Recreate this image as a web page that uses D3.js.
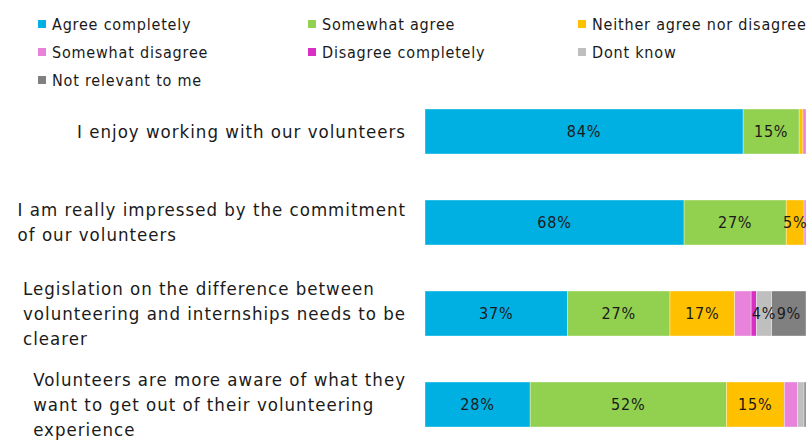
<!DOCTYPE html>
<html>
<head>
<meta charset="utf-8">
<script src="https://cdn.jsdelivr.net/npm/d3@7/dist/d3.min.js"></script>
<style>
  html, body { margin: 0; padding: 0; background: #fff; }
  svg { display: block; }
  text { font-family: "DejaVu Sans Condensed", "DejaVu Sans", sans-serif; font-stretch: condensed; fill: #1a1a1a; }
</style>
</head>
<body>
<svg id="chart" width="810" height="442"></svg>
<script>
// ---- Data ----
const categories = [
  "I enjoy working with our volunteers",
  "I am really impressed by the commitment of our volunteers",
  "Legislation on the difference between volunteering and internships needs to be clearer",
  "Volunteers are more aware of what they want to get out of their volunteering experience"
];
const categoryLines = [
  ["I enjoy working with our volunteers"],
  ["I am really impressed by the commitment", "of our volunteers"],
  ["Legislation on the difference between", "volunteering and internships needs to be", "clearer"],
  ["Volunteers are more aware of what they", "want to get out of their volunteering", "experience"]
];
const seriesNames = [
  "Agree completely", "Somewhat agree", "Neither agree nor disagree",
  "Somewhat disagree", "Disagree completely", "Dont know", "Not relevant to me"
];
const seriesColors = ["#00B0E2", "#92D050", "#FFC000", "#E882DA", "#D930C4", "#BFBFBF", "#808080"];
// values per series (percent), one entry per category
const agreeCompletely   = [83.5, 68.0, 37.4, 27.6];
const somewhatAgree     = [14.7, 26.8, 26.9, 51.5];
const neitherAgree      = [1.0, 4.7, 17.0, 15.2];
const somewhatDisagree  = [0.8, 0.5, 4.3, 3.5];
const disagreeCompletely= [0.0, 0.0, 1.4, 0.0];
const dontKnow          = [0.0, 0.0, 4.0, 1.7];
const notRelevant       = [0.0, 0.0, 9.0, 0.5];
const seriesValues = [agreeCompletely, somewhatAgree, neitherAgree, somewhatDisagree, disagreeCompletely, dontKnow, notRelevant];
const labeledSeries = ["Agree completely", "Somewhat agree", "Neither agree nor disagree", "Dont know", "Not relevant to me"];
const labelMin = 3.5;

// ---- Layout ----
const svg = d3.select("#chart");
const x = d3.scaleLinear().domain([0, 100]).range([425, 806]);
const y = d3.scaleBand().domain(categories).range([86, 450]).paddingInner(0.5055).paddingOuter(0.2527);
const color = d3.scaleOrdinal().domain(seriesNames).range(seriesColors);

const rows = categories.map((c, i) => {
  const obj = { category: c };
  seriesNames.forEach((s, j) => obj[s] = seriesValues[j][i]);
  return obj;
});
const stacked = d3.stack().keys(seriesNames)(rows);

// Bars
const layers = svg.append("g").selectAll("g").data(stacked).join("g")
  .attr("fill", d => color(d.key));
layers.selectAll("rect").data(d => d.map(p => ({ key: d.key, p })))
  .join("rect")
  .attr("x", d => x(d.p[0]))
  .attr("y", d => y(d.p.data.category))
  .attr("width", d => Math.max(0, x(d.p[1]) - x(d.p[0])))
  .attr("height", y.bandwidth())
  .attr("stroke", "#ffffff")
  .attr("stroke-width", 0.6)
  .attr("stroke-opacity", 0.6);

// Bar labels
const labels = [];
stacked.forEach(layer => {
  if (!labeledSeries.includes(layer.key)) return;
  layer.forEach(p => {
    const v = p.data[layer.key];
    if (v >= labelMin) labels.push({ v, cx: (x(p[0]) + x(p[1])) / 2, cy: y(p.data.category) + y.bandwidth() / 2 });
  });
});
svg.append("g").selectAll("text").data(labels).join("text")
  .attr("x", d => d.cx)
  .attr("y", d => d.cy)
  .attr("dy", "0.35em")
  .attr("text-anchor", "middle")
  .style("font-size", "16px")
  .style("letter-spacing", "0.8px")
  .text(d => Math.round(d.v) + "%");

// Category labels (left-aligned block, right edge at 406)
const catG = svg.append("g");
const lineH = 25;
categoryLines.forEach((lines, i) => {
  const cy = y(categories[i]) + y.bandwidth() / 2;
  const t = catG.append("text").style("font-size", "18.5px").style("letter-spacing", "1px");
  const y0 = cy - (lines.length - 1) * lineH / 2;
  lines.forEach((ln, k) => {
    t.append("tspan").attr("y", y0 + k * lineH).attr("dy", "0.35em").text(ln);
  });
  const widths = [];
  t.selectAll("tspan").each(function () { widths.push(this.getComputedTextLength()); });
  const w = d3.max(widths);
  t.selectAll("tspan").attr("x", 406 - w);
});

// Legend
const legendPos = [
  [38, 24], [308, 24], [578, 24],
  [38, 52], [308, 52], [578, 52],
  [38, 80]
];
const lg = svg.append("g").selectAll("g").data(seriesNames).join("g")
  .attr("transform", (d, i) => `translate(${legendPos[i][0]},${legendPos[i][1]})`);
lg.append("rect").attr("x", 0).attr("y", -4).attr("width", 8).attr("height", 8).attr("fill", d => color(d));
lg.append("text").attr("x", 14).attr("y", 0).attr("dy", "0.35em").style("font-size", "16px").style("letter-spacing", "0.8px").text(d => d);
</script>
</body>
</html>
